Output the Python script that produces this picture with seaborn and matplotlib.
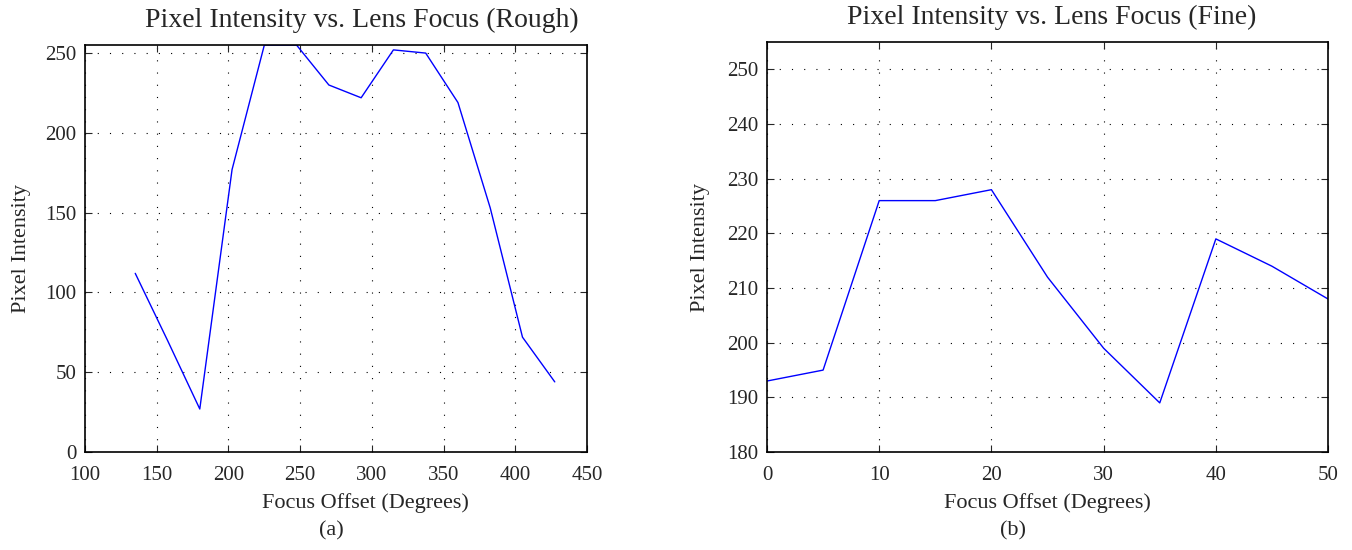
import pandas as pd
import matplotlib
matplotlib.use("Agg")
import matplotlib.pyplot as plt
import seaborn as sns

# rough sweep (degrees, pixel intensity)
rough_offset = [135, 157.5, 180, 202.5, 225, 247.5, 270, 292.5, 315, 337.5, 360, 382.5, 405, 427.5]
rough_intensity = [112, 70, 27, 177, 255, 255, 230, 222, 252, 250, 219, 153, 72, 44]

# fine sweep
fine_offset = [0, 5, 10, 15, 20, 25, 30, 35, 40, 45, 50]
fine_intensity = [193, 195, 226, 226, 228, 212, 199, 189, 219, 214, 208]

rough_ticks_x = [100, 150, 200, 250, 300, 350, 400, 450]
rough_ticks_y = [0, 50, 100, 150, 200, 250]
fine_ticks_x = [0, 10, 20, 30, 40, 50]
fine_ticks_y = [180, 190, 200, 210, 220, 230, 240, 250]

sns.set_style("ticks")
plt.rcParams['font.family'] = ['Liberation Serif', 'DejaVu Serif']

df_rough = pd.DataFrame({"offset": rough_offset, "intensity": rough_intensity})
df_fine = pd.DataFrame({"offset": fine_offset, "intensity": fine_intensity})

fig = plt.figure(figsize=(13.52, 5.5), dpi=100)
ax1 = fig.add_axes([0.0629, 0.178, 0.3713, 0.740])
ax2 = fig.add_axes([0.5673, 0.178, 0.415, 0.7455])


def style_axes(ax, xt, yt, xlim, ylim, title, title_x, xlab_pos, ylab_pos):
    ax.set_xlim(*xlim)
    ax.set_ylim(*ylim)
    ax.set_xticks(xt)
    ax.set_yticks(yt)
    ax.tick_params(direction='in', top=True, right=True, length=5, width=0.8,
                   labelsize=15)
    ax.tick_params(axis='x', pad=10)
    ax.tick_params(axis='y', pad=6)
    ax.grid(True, color='black', linestyle=(0, (1, 10)), linewidth=0.8)
    for s in ax.spines.values():
        s.set_linewidth(1.2)
        s.set_color('black')
    ax.set_xlabel("Focus Offset (Degrees)", fontsize=16)
    ax.set_ylabel("Pixel Intensity", fontsize=16)
    ax.xaxis.set_label_coords(*xlab_pos)
    ax.xaxis.label.set_va('center')
    ax.yaxis.set_label_coords(*ylab_pos)
    ax.yaxis.label.set_va('center')
    ax.set_title(title, fontsize=20, pad=13)
    ax.title.set_x(title_x)


sns.lineplot(data=df_rough, x="offset", y="intensity", ax=ax1, color=(0, 0, 1), linewidth=1)
style_axes(ax1, rough_ticks_x, rough_ticks_y, (100, 450), (0, 255),
           "Pixel Intensity vs. Lens Focus (Rough)", 0.552,
           (0.558, -0.125), (-0.1275, 0.5))

sns.lineplot(data=df_fine, x="offset", y="intensity", ax=ax2, color=(0, 0, 1), linewidth=1)
style_axes(ax2, fine_ticks_x, fine_ticks_y, (0, 50), (180, 255),
           "Pixel Intensity vs. Lens Focus (Fine)", 0.508,
           (0.5, -0.124), (-0.119, 0.5))

fig.text(331 / 1352, 0.0345, "(a)", ha='center', va='center', fontsize=16)
fig.text(1013 / 1352, 0.0345, "(b)", ha='center', va='center', fontsize=16)

fig.savefig("out.png", dpi=100)
